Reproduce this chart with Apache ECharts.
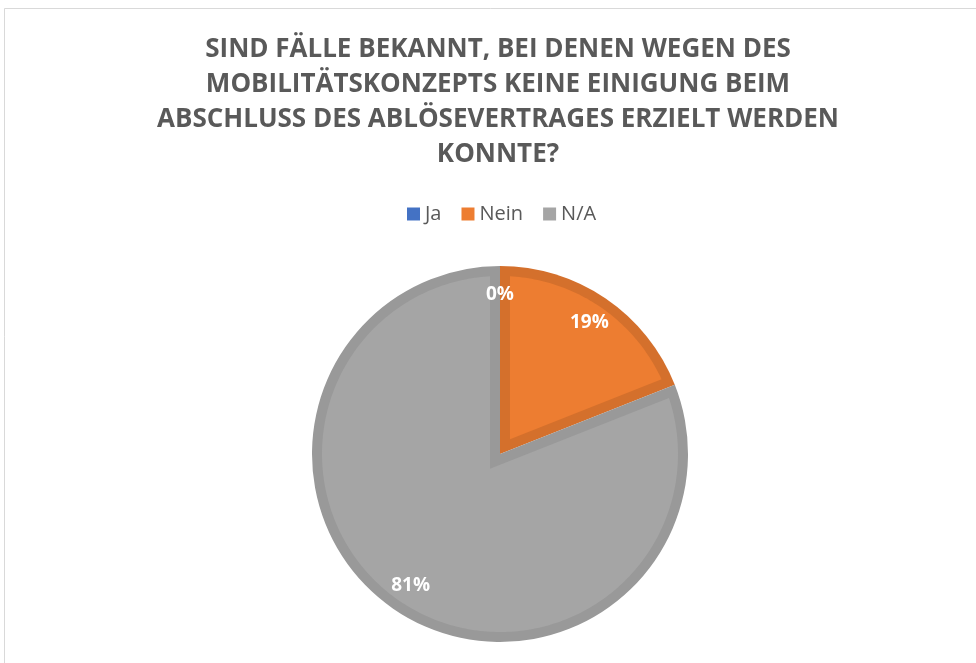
<!DOCTYPE html>
<html>
<head>
<meta charset="utf-8">
<script src="https://cdn.jsdelivr.net/npm/echarts@6/dist/echarts.min.js"></script>
<style>
  html, body { margin: 0; padding: 0; background: #fff; }
  #chart { width: 976px; height: 663px; }
</style>
</head>
<body>
<div id="chart"></div>
<script>
// Data
const categories = ["Ja", "Nein", "N/A"];
const shares = [0, 19, 81];
const fillColors = ["#4472C4", "#ED7D31", "#A5A5A5"];
const edgeColors = ["#3B66B3", "#D4702C", "#999999"];
const titleLines = [
  "SIND FÄLLE BEKANNT, BEI DENEN WEGEN DES",
  "MOBILITÄTSKONZEPTS KEINE EINIGUNG BEIM",
  "ABSCHLUSS DES ABLÖSEVERTRAGES ERZIELT WERDEN",
  "KONNTE?",
];

const FONT = "Open Sans";
const TEXT_COLOR = "#595959";
const CENTER = [500, 454];
const RADIUS = 188;
const EDGE = 10; // width of the darker inner edge of each slice

// Lighter inner part of each slice, inset by EDGE from the slice outline
function renderInset(params, api) {
  const i = params.dataIndex;
  const total = shares.reduce((a, b) => a + b, 0);
  let before = 0;
  for (let k = 0; k < i; k++) before += shares[k];
  const a0 = (before / total) * 2 * Math.PI;
  const a1 = ((before + shares[i]) / total) * 2 * Math.PI;
  const span = a1 - a0;
  if (span <= 0) return null;

  const [cx, cy] = CENTER;
  const pt = (a, r) => [cx + r * Math.sin(a), cy - r * Math.cos(a)];
  const rIn = RADIUS - EDGE;
  const off = Math.asin(EDGE / rIn);
  const points = [pt((a0 + a1) / 2, EDGE / Math.sin(span / 2))];
  const steps = Math.ceil((span - 2 * off) / (Math.PI / 180));
  for (let s = 0; s <= steps; s++) {
    points.push(pt(a0 + off + ((span - 2 * off) * s) / steps, rIn));
  }
  return {
    type: "polygon",
    shape: { points },
    style: { fill: fillColors[i] },
    silent: true,
  };
}

const chart = echarts.init(document.getElementById("chart"));

chart.setOption({
  animation: false,
  backgroundColor: "#fff",
  graphic: [
    {
      type: "rect",
      shape: { x: 4.5, y: 8.5, width: 1000, height: 1000 },
      style: { fill: "none", stroke: "#D9D9D9", lineWidth: 1 },
      silent: true,
      z: -1,
    },
  ],
  title: {
    text: titleLines.join("\n"),
    left: 498,
    top: 32,
    padding: 0,
    textAlign: "center",
    textStyle: {
      fontFamily: FONT,
      fontWeight: "bold",
      fontSize: 26,
      lineHeight: 35,
      color: TEXT_COLOR,
    },
  },
  legend: {
    top: 204,
    left: 407,
    padding: 0,
    itemWidth: 13,
    itemHeight: 13,
    itemGap: 20,
    icon: "rect",
    selectedMode: false,
    data: categories.map((name, i) => ({
      name,
      itemStyle: { color: fillColors[i] },
    })),
    textStyle: { fontFamily: FONT, fontSize: 20, color: TEXT_COLOR },
  },
  series: [
    {
      name: "edge",
      type: "pie",
      z: 1,
      center: CENTER,
      radius: RADIUS,
      startAngle: 90,
      clockwise: true,
      silent: true,
      label: { show: false },
      labelLine: { show: false },
      emphasis: { disabled: true },
      data: categories.map((name, i) => ({
        name,
        value: shares[i],
        itemStyle: { color: edgeColors[i] },
      })),
    },
    {
      name: "inset",
      type: "custom",
      coordinateSystem: "none",
      z: 2,
      silent: true,
      renderItem: renderInset,
      data: shares,
    },
    {
      name: "labels",
      type: "pie",
      z: 3,
      center: CENTER,
      radius: [RADIUS * 0.66, RADIUS],
      startAngle: 90,
      clockwise: true,
      silent: true,
      itemStyle: { color: "transparent" },
      emphasis: { disabled: true },
      labelLine: { show: false },
      label: {
        show: true,
        position: "inside",
        formatter: (p) => Math.round(p.percent) + "%",
        fontFamily: FONT,
        fontWeight: "bold",
        fontSize: 19,
        color: "#fff",
      },
      data: categories.map((name, i) => ({ name, value: shares[i] })),
    },
  ],
});
</script>
</body>
</html>
